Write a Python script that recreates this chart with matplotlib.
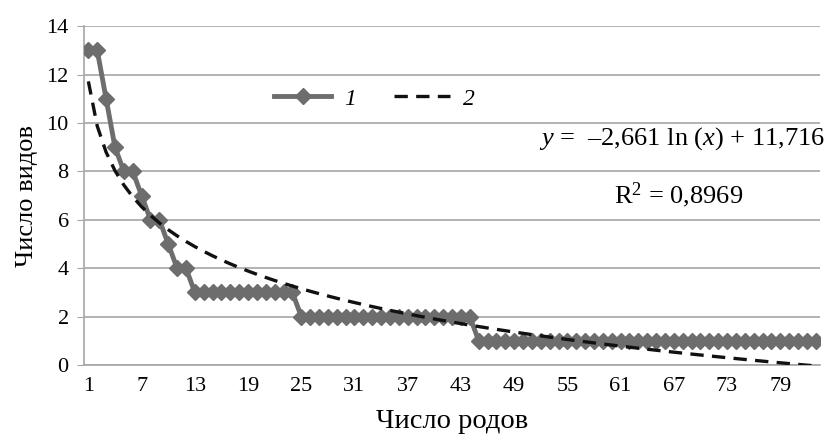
import numpy as np
import matplotlib
matplotlib.use("Agg")
import matplotlib.pyplot as plt

# number of species per genus, genera ranked 1..83
genus_rank = list(range(1, 84))
species_count = ([13, 13, 11, 9, 8, 8, 7, 6, 6, 5, 4, 4]
                 + [3] * 12
                 + [2] * 20
                 + [1] * 39)
x_tick_labels = list(range(1, 80, 6))
y_ticks = list(range(0, 15, 2))

equation_text = r"$\mathit{y}$ =  –2,661 ln ($\mathit{x}$) + 11,716"
r2_text = r"R$^2$ = 0,8969"

plt.rcParams['font.family'] = ['Liberation Serif', 'DejaVu Serif']
plt.rcParams['mathtext.fontset'] = 'custom'
plt.rcParams['mathtext.rm'] = 'Liberation Serif'
plt.rcParams['mathtext.it'] = 'Liberation Serif:italic'

x = np.array(genus_rank)
y = np.array(species_count)

# logarithmic trend, fitted the way Excel does it
slope, intercept = np.polyfit(np.log(x), y, 1)
trend = slope * np.log(x) + intercept

fig = plt.figure(figsize=(8.31, 4.36), dpi=100)
ax = fig.add_axes([0.101, 0.163, 0.886, 0.777])

grid_col = '#a6a6a6'
ax.plot(x, y, color='#6d6d6d', lw=3.5, marker='D', ms=8,
        markerfacecolor='#6d6d6d', markeredgecolor='#6d6d6d', label='1', zorder=3)
ax.plot(x, trend, color='#111111', lw=2.4, ls=(0, (4, 2.5)), label='2', zorder=4)

ax.set_xlim(0.5, 83.5)
ax.set_ylim(0, 14)
ax.set_yticks(y_ticks)
ax.set_xticks(x_tick_labels)
ax.tick_params(axis='y', labelsize=16, length=5, color=grid_col, pad=6)
ax.tick_params(axis='x', labelsize=16, length=0, pad=9)
ax.yaxis.grid(True, color=grid_col, lw=1.2)
ax.set_axisbelow(True)
for side in ['top', 'right']:
    ax.spines[side].set_visible(False)
for side in ['left', 'bottom']:
    ax.spines[side].set_color(grid_col)
    ax.spines[side].set_linewidth(1.2)

ax.set_xlabel('Число родов', fontsize=20.5, labelpad=9)
ax.set_ylabel('Число видов', fontsize=19, labelpad=6)

leg = ax.legend(loc='center', bbox_to_anchor=(0.451, 0.773),
                bbox_transform=fig.transFigure, ncol=2, frameon=False,
                handlelength=2.4, columnspacing=1.6, handletextpad=0.55,
                numpoints=1, prop={'size': 17, 'style': 'italic'})

fig.text(0.821, 0.683, equation_text, fontsize=19, ha='center', va='center')
fig.text(0.816, 0.553, r2_text, fontsize=19, ha='center', va='center')

fig.savefig('out.png', dpi=100)
